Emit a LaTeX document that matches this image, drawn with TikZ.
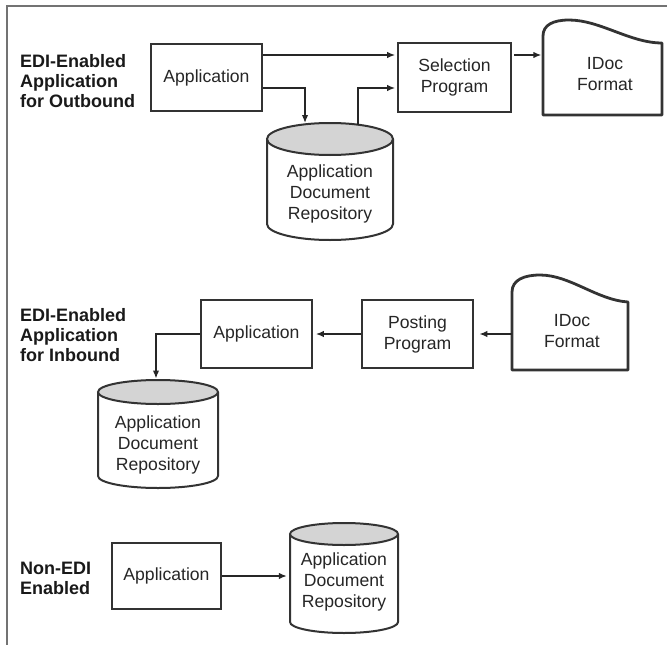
\documentclass[tikz,border=0pt]{standalone}
\usepackage{fontspec}
\setmainfont{Liberation Sans}
\usetikzlibrary{arrows.meta}
\begin{document}
\begin{tikzpicture}[x=1pt,y=-1pt,
  txt/.style={font=\fontsize{17.6}{21}\selectfont, text=black!85, align=center, inner sep=0pt},
  lbl/.style={font=\bfseries\fontsize{18}{20}\selectfont, text=black!90, align=left, inner sep=0pt, anchor=west},
  procbox/.style={txt, draw=black!80, line width=2.8pt},
  area/.style={inner sep=0pt, draw=none},
  outline/.style={draw=black!80, line width=2.8pt, line join=round},
  drumline/.style={draw=black!80, line width=2pt},
  drumtop/.style={drumline, fill=black!17},
  arr/.style={draw=black!85, line width=1.4pt, -{Latex[length=8pt,width=6.5pt]}, shorten >=1.5pt},
  frameline/.style={draw=black!55, line width=1.6pt}]

\useasboundingbox (0,0) rectangle (667,645);
\draw[frameline] (7,645) -- (7,6) -- (667,6);

% ---------- outbound ----------
\node[lbl] (lab1) at (20,81) {EDI-Enabled\\Application\\for Outbound};
\node[procbox, minimum width=111pt, minimum height=67pt] (app1) at (206.5,77.5) {Application};
\node[procbox, minimum width=113pt, minimum height=69pt] (sel) at (454.5,77.5) {Selection\\Program};

% IDoc document shape
\node[area, minimum width=119pt, minimum height=72pt] (idoc1) at (602.5,79) {};
\draw[outline] (543,115) -- (543,36) .. controls (543,25) and (553,20) .. (569,20)
  .. controls (600,20) and (630,43) .. (662,43) -- (662,115) -- cycle;
\node[txt] (idoc1label) at (605,74) {IDoc\\Format};

% repository drum
\draw[drumline, fill=white] (267,139) -- (267,224) arc[start angle=180, end angle=0, x radius=63, y radius=16] -- (393,139);
\draw[drumtop] (330,139) ellipse[x radius=63, y radius=16];
\node[txt] (rep1) at (330,194) {Application\\Document\\Repository};
\coordinate (rep1in) at (305,124.5);
\coordinate (rep1out) at (358,124.7);

\draw[arr] ([yshift=22.5pt]app1.east) -- ([yshift=22.5pt]app1.east -| sel.west);
\draw[arr] ([yshift=-10.5pt]app1.east) -| (rep1in);
\draw[arr] (rep1out) |- ([yshift=-10.5pt]sel.west);
\draw[arr] ([yshift=22.5pt,xshift=2pt]sel.east) -- ([yshift=22.5pt]sel.east -| idoc1.west);

% ---------- inbound ----------
\node[lbl] (lab2) at (20,335) {EDI-Enabled\\Application\\for Inbound};
\node[procbox, minimum width=111pt, minimum height=68pt] (app2) at (256.5,334) {Application};
\node[procbox, minimum width=111pt, minimum height=68pt] (post) at (417.5,334) {Posting\\Program};

\node[area, minimum width=116pt, minimum height=68pt] (idoc2) at (570,336) {};
\draw[outline] (512,370) -- (512,292) .. controls (512,280) and (524,275) .. (540,275)
  .. controls (570,275) and (597,300) .. (628,302) -- (628,370) -- cycle;
\node[txt] (idoc2label) at (572,331) {IDoc\\Format};

\draw[drumline, fill=white] (98,392) -- (98,476) arc[start angle=180, end angle=0, x radius=60, y radius=12] -- (218,392);
\draw[drumtop] (158,392) ellipse[x radius=60, y radius=12];
\node[txt] (rep2) at (158,445) {Application\\Document\\Repository};
\coordinate (rep2in) at (156,380);

\draw[arr, shorten >=5pt] (idoc2.west |- post.east) -- (post.east);
\draw[arr, shorten >=2.5pt] (post.west) -- (app2.east);
\draw[arr] (app2.west) -| (rep2in);

% ---------- non-EDI ----------
\node[lbl] (lab3) at (20,578.5) {Non-EDI\\Enabled};
\node[procbox, minimum width=109pt, minimum height=66pt] (app3) at (166.5,576) {Application};

\node[area, minimum width=108pt, minimum height=110pt] (rep3) at (344,578) {};
\draw[drumline, fill=white] (290,534) -- (290,622) arc[start angle=180, end angle=0, x radius=54, y radius=11] -- (398,534);
\draw[drumtop] (344,534) ellipse[x radius=54, y radius=11];
\node[txt] (rep3label) at (344,582) {Application\\Document\\Repository};

\draw[arr, shorten >=3pt] (app3.east) -- (app3.east -| rep3.west);
\end{tikzpicture}
\end{document}
